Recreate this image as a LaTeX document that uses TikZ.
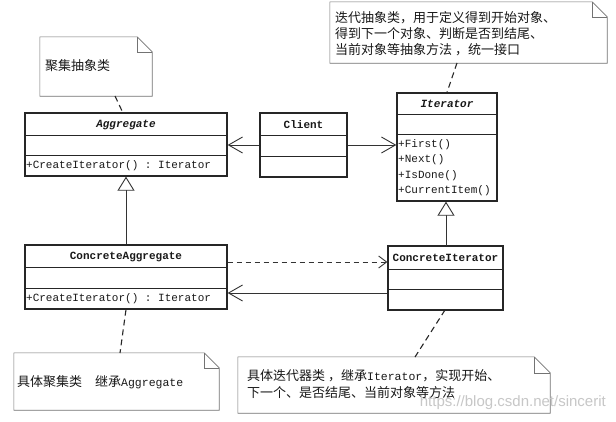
\documentclass[tikz,border=0pt]{standalone}
\usepackage{fontspec}
\setmainfont{Liberation Serif}
\setmonofont{Liberation Mono}
\setsansfont{Liberation Sans}
\newfontfamily\cjk{Noto Sans CJK SC}
\usetikzlibrary{arrows.meta}
\newcommand\latw[1]{{\ttfamily\fontsize{11.5}{13}\selectfont #1}}
\begin{document}
\begin{tikzpicture}[x=1pt,y=-1pt,
  cls/.style={draw=black!85, line width=1.3pt, inner sep=0pt},
  sep/.style={draw=black!85, line width=1pt},
  hdr/.style={inner sep=0pt, font=\ttfamily\bfseries\fontsize{11}{13}\selectfont, text=black!90},
  mtext/.style={inner sep=0pt, anchor=west, font=\ttfamily\fontsize{11}{13}\selectfont, text=black!90},
  notebox/.style={inner sep=0pt},
  noteline/.style={draw=black!55, line width=0.6pt},
  ntext/.style={inner sep=0pt, anchor=west, font=\cjk\fontsize{13}{15}\selectfont, text=black!90},
  notelink/.style={draw=black!85, line width=1.1pt, dash pattern=on 6pt off 4pt},
  assoc/.style={draw=black!80, line width=0.9pt, -{Straight Barb[length=14pt,width=16pt,line width=0.9pt]}},
  dep/.style={draw=black!80, line width=0.9pt, dash pattern=on 5pt off 4pt, -{Straight Barb[length=8pt,width=12pt,line width=0.9pt]}},
  gen/.style={draw=black!80, line width=0.9pt, -{Triangle[length=14pt,width=17pt,fill=white,line width=0.9pt]}}
]
\useasboundingbox (0,0) rectangle (616,421);
\fill[white] (0,0) rectangle (616,421);

% ---------- classes ----------
\node[cls, minimum width=202pt, minimum height=63pt] (agg) at (126,144.5) {};
\draw[sep] ([yshift=-23pt]agg.north west) -- ([yshift=-23pt]agg.north east);
\draw[sep] ([yshift=-43pt]agg.north west) -- ([yshift=-43pt]agg.north east);
\node[hdr, font=\ttfamily\bfseries\itshape\fontsize{11}{13}\selectfont] (aggn) at (126,124.5) {Aggregate};
\node[mtext] (aggm) at (26,166) {+CreateIterator() : Iterator};

\node[cls, minimum width=87pt, minimum height=64pt] (cli) at (303.5,145) {};
\draw[sep] ([yshift=-23pt]cli.north west) -- ([yshift=-23pt]cli.north east);
\draw[sep] ([yshift=-44pt]cli.north west) -- ([yshift=-44pt]cli.north east);
\node[hdr] (clin) at (303.5,124.5) {Client};

\node[cls, minimum width=100pt, minimum height=108pt] (iter) at (447,147) {};
\draw[sep] ([yshift=-22pt]iter.north west) -- ([yshift=-22pt]iter.north east);
\draw[sep] ([yshift=-42pt]iter.north west) -- ([yshift=-42pt]iter.north east);
\node[hdr, font=\ttfamily\bfseries\itshape\fontsize{11}{13}\selectfont] (itern) at (447,104) {Iterator};
\node[mtext] (im1) at (398,145) {+First()};
\node[mtext] (im2) at (398,160) {+Next()};
\node[mtext] (im3) at (398,175.5) {+IsDone()};
\node[mtext] (im4) at (398,191) {+CurrentItem()};

\node[cls, minimum width=202pt, minimum height=64pt] (cagg) at (126,277) {};
\draw[sep] ([yshift=-23pt]cagg.north west) -- ([yshift=-23pt]cagg.north east);
\draw[sep] ([yshift=-44pt]cagg.north west) -- ([yshift=-44pt]cagg.north east);
\node[hdr] (caggn) at (126,256.5) {ConcreteAggregate};
\node[mtext] (caggm) at (26,299) {+CreateIterator() : Iterator};

\node[cls, minimum width=115pt, minimum height=64pt] (citer) at (445.5,278) {};
\draw[sep] ([yshift=-24pt]citer.north west) -- ([yshift=-24pt]citer.north east);
\draw[sep] ([yshift=-44pt]citer.north west) -- ([yshift=-44pt]citer.north east);
\node[hdr] (citern) at (445.5,258) {ConcreteIterator};

% ---------- notes ----------
\node[notebox, minimum width=112pt, minimum height=59pt] (n1) at (96,66.5) {};
\node[notebox, minimum width=277pt, minimum height=61pt] (n2) at (468.5,32.5) {};
\node[notebox, minimum width=205pt, minimum height=57pt] (n3) at (116.5,381.5) {};
\node[notebox, minimum width=312pt, minimum height=56pt] (n4) at (394,385) {};
\foreach \n/\f in {n1/15,n2/15,n3/15,n4/16}{
  \draw[noteline] (\n.south west) -- (\n.north west) -- ([xshift=-\f pt]\n.north east)
    -- ([yshift=-\f pt]\n.north east) -- (\n.south east) -- cycle;
  \draw[noteline] ([xshift=-\f pt]\n.north east) -- ([xshift=-\f pt,yshift=-\f pt]\n.north east)
    -- ([yshift=-\f pt]\n.north east);
}
\node[ntext] (t1) at (45,66) {聚集抽象类};
\node[ntext] (t2a) at (335,18) {迭代抽象类，用于定义得到开始对象、};
\node[ntext] (t2b) at (335,33.5) {得到下一个对象、判断是否到结尾、};
\node[ntext] (t2c) at (335,49.5) {当前对象等抽象方法 ，统一接口};
\node[ntext] (t3) at (17,382) {具体聚集类　继承\latw{Aggregate}};
\node[ntext] (t4a) at (247,376) {具体迭代器类 ，继承\latw{Iterator}，实现开始、};
\node[ntext] (t4b) at (247,393) {下一个、是否结尾、当前对象等方法};

% watermark
\node[inner sep=0pt, anchor=east, font=\sffamily\fontsize{15}{16}\selectfont, text=black!22] (wm) at (606,403) {https://blog.csdn.net/sincerit};

% ---------- note links ----------
\coordinate (l1) at (115,96);
\draw[notelink] (l1) -- (123,113);
\coordinate (l2) at (457,63);
\draw[notelink] (l2) -- (iter.north);
\coordinate (l3) at (120,353);
\draw[notelink] (cagg.south) -- (l3);
\coordinate (l4a) at (445,310);
\coordinate (l4) at (415,357);
\draw[notelink] (l4a) -- (l4);

% ---------- relations ----------
\draw[assoc] (cli.west) -- (cli.west -| agg.east);
\draw[assoc] (cli.east) -- (cli.east -| iter.west);
\draw[gen] (cagg.north) -- (agg.south);
\coordinate (g2) at (446,246);
\draw[gen] (g2) -- (g2 |- iter.south);
\coordinate (dA) at ([yshift=15pt]cagg.east);
\draw[dep] (dA) -- (dA -| citer.west);
\coordinate (sA) at ([yshift=-15pt]citer.west);
\draw[assoc] (sA) -- (sA -| cagg.east);
\end{tikzpicture}
\end{document}
